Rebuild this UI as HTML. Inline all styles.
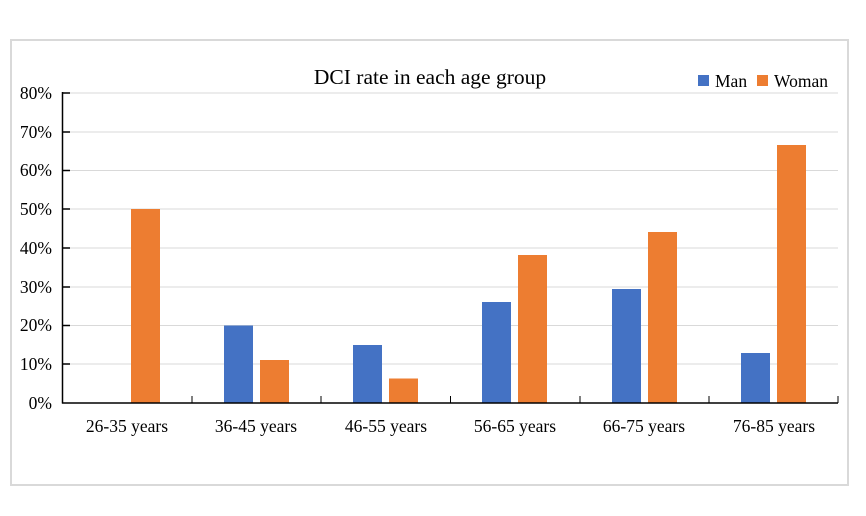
<!DOCTYPE html>
<html><head><style>body{margin:0;background:#fff}svg{display:block}</style></head><body>
<svg width="866" height="516" xmlns="http://www.w3.org/2000/svg" font-family="Liberation Serif, serif">
<rect x="11" y="40" width="837" height="445" fill="#fff" stroke="#d9d9d9" stroke-width="2"/>
<g stroke="#d9d9d9" stroke-width="1">
<line x1="62" x2="838" y1="93" y2="93"/><line x1="62" x2="838" y1="132" y2="132"/>
<line x1="62" x2="838" y1="170.5" y2="170.5"/><line x1="62" x2="838" y1="209" y2="209"/>
<line x1="62" x2="838" y1="248" y2="248"/><line x1="62" x2="838" y1="287" y2="287"/>
<line x1="62" x2="838" y1="325.5" y2="325.5"/><line x1="62" x2="838" y1="364" y2="364"/>
</g>
<g font-size="17.5" fill="#000" text-anchor="end">
<text x="52" y="99">80%</text><text x="52" y="138">70%</text><text x="52" y="176">60%</text>
<text x="52" y="215">50%</text><text x="52" y="254">40%</text><text x="52" y="293">30%</text>
<text x="52" y="331">20%</text><text x="52" y="370">10%</text><text x="52" y="409">0%</text>
</g>
<g fill="#4472c4">
<rect x="224" y="325.5" width="29" height="77.5"/>
<rect x="353" y="345" width="29" height="58"/>
<rect x="482" y="302" width="29" height="101"/>
<rect x="612" y="289" width="29" height="114"/>
<rect x="741" y="353" width="29" height="50"/>
</g>
<g fill="#ed7d31">
<rect x="131" y="209" width="29" height="194"/>
<rect x="260" y="360" width="29" height="43"/>
<rect x="389" y="378.5" width="29" height="24.5"/>
<rect x="518" y="255" width="29" height="148"/>
<rect x="648" y="232" width="29" height="171"/>
<rect x="777" y="145" width="29" height="258"/>
</g>
<g stroke="#000" stroke-width="1.5">
<line x1="62.5" x2="62.5" y1="92" y2="403.5"/>
<line x1="62" x2="838" y1="403" y2="403"/>
<line x1="62" x2="70" y1="93" y2="93"/><line x1="62" x2="70" y1="132" y2="132"/>
<line x1="62" x2="70" y1="170.5" y2="170.5"/><line x1="62" x2="70" y1="209" y2="209"/>
<line x1="62" x2="70" y1="248" y2="248"/><line x1="62" x2="70" y1="287" y2="287"/>
<line x1="62" x2="70" y1="325.5" y2="325.5"/><line x1="62" x2="70" y1="364" y2="364"/>
</g>
<g stroke="#000" stroke-width="1">
<line x1="192" x2="192" y1="396" y2="403"/><line x1="321" x2="321" y1="396" y2="403"/>
<line x1="450.5" x2="450.5" y1="396" y2="403"/><line x1="580" x2="580" y1="396" y2="403"/>
<line x1="709" x2="709" y1="396" y2="403"/><line x1="838" x2="838" y1="396" y2="403"/>
</g>
<g font-size="17.5" fill="#000" text-anchor="middle">
<text x="127" y="432">26-35 years</text><text x="256" y="432">36-45 years</text>
<text x="386" y="432">46-55 years</text><text x="515" y="432">56-65 years</text>
<text x="644" y="432">66-75 years</text><text x="774" y="432">76-85 years</text>
</g>
<text x="430" y="84" font-size="21.5" text-anchor="middle">DCI rate in each age group</text>
<rect x="698" y="75" width="11" height="11" fill="#4472c4"/>
<text x="715" y="87" font-size="17.5">Man</text>
<rect x="757" y="75" width="11" height="11" fill="#ed7d31"/>
<text x="774" y="87" font-size="17.5">Woman</text>
</svg>
</body></html>
